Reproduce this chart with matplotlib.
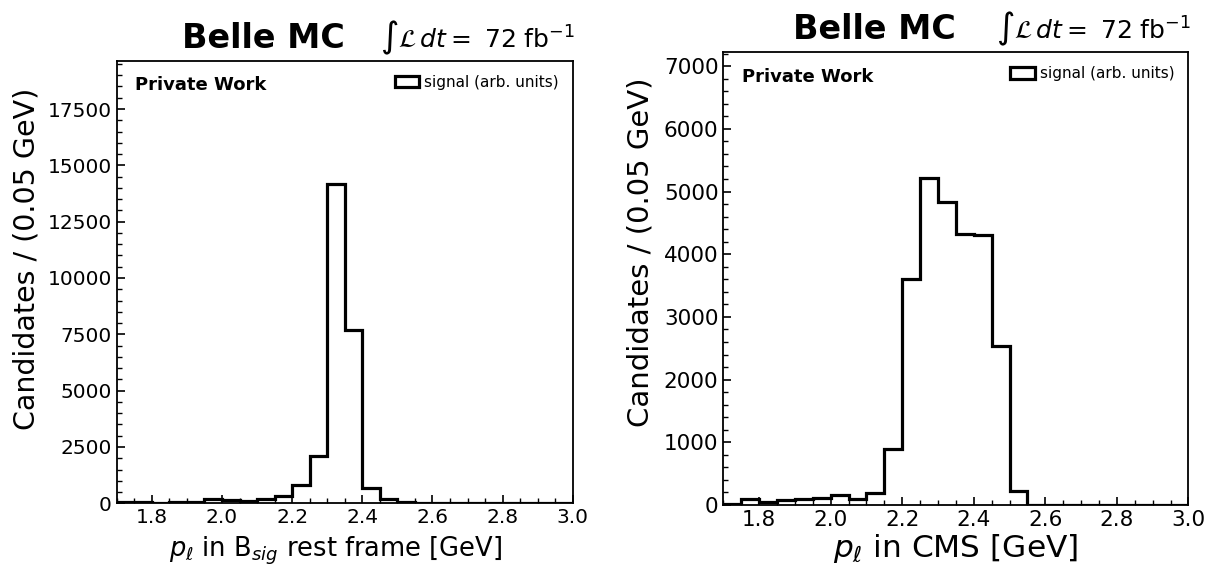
import numpy as np
import matplotlib
matplotlib.use("Agg")
import matplotlib.pyplot as plt
from matplotlib.ticker import MultipleLocator
from matplotlib.patches import Patch

# ---- data ----
bin_lo, bin_hi, n_bins = 1.7, 3.0, 26
left_counts = [40, 40, 30, 40, 80, 170, 130, 110, 180, 330, 820, 2100, 14150,
               7700, 680, 210, 80, 25, 10, 5, 5, 3, 2, 2, 1, 1]
right_counts = [10, 100, 50, 80, 100, 115, 160, 90, 190, 900, 3610, 5220, 4840,
                4330, 4300, 2530, 230, 5, 2, 1, 1, 0, 0, 0, 0, 0]
left_xlabel = r"$p_\ell$ in B$_{sig}$ rest frame [GeV]"
right_xlabel = r"$p_\ell$ in CMS [GeV]"
ylabel = "Candidates / (0.05 GeV)"
legend_label = "signal (arb. units)"
title_text = "Belle MC"
lumi_text = r"$\int\mathcal{L}\,dt=$ 72 fb$^{-1}$"
left_yticks = [0, 2500, 5000, 7500, 10000, 12500, 15000, 17500]
right_yticks = [0, 1000, 2000, 3000, 4000, 5000, 6000, 7000]
xticks = [1.8, 2.0, 2.2, 2.4, 2.6, 2.8, 3.0]

edges = np.round(np.linspace(bin_lo, bin_hi, n_bins + 1), 3)

fig = plt.figure(figsize=(12.06, 5.67), dpi=100)
axL = fig.add_axes([0.0968, 0.1123, 0.3781, 0.7801])
axR = fig.add_axes([0.5998, 0.1093, 0.3856, 0.7984])

def style(ax, counts, xlabel, yticks, ytop, yminor, tsize, xlsize, ylsize,
          ylab_x, ylab_y, xlab_x, xlab_y):
    ax.stairs(counts, edges, color="black", lw=2.3)
    ax.set_xlim(bin_lo, bin_hi)
    ax.set_ylim(0, ytop)
    ax.set_xticks(xticks)
    ax.set_yticks(yticks)
    ax.xaxis.set_minor_locator(MultipleLocator(0.05))
    ax.yaxis.set_minor_locator(MultipleLocator(yminor))
    ax.tick_params(which="both", direction="in", labelsize=tsize)
    ax.tick_params(which="major", length=6, width=1.2)
    ax.tick_params(which="minor", length=3.5, width=1.0)
    for s in ax.spines.values():
        s.set_linewidth(1.3)
    ax.set_xlabel(xlabel, fontsize=xlsize)
    ax.xaxis.set_label_coords(xlab_x, xlab_y)
    ax.set_ylabel(ylabel, fontsize=ylsize)
    ax.yaxis.set_label_coords(ylab_x, ylab_y)
    ax.text(0.04, 0.945, "Private Work", transform=ax.transAxes,
            fontsize=13, fontweight="bold", va="center", ha="left")
    handle = Patch(facecolor="none", edgecolor="black", lw=2.3)
    ax.legend([handle], [legend_label], loc="upper right", frameon=False,
              fontsize=11, handlelength=1.6, handleheight=0.8,
              handletextpad=0.35, borderaxespad=0.5)
    ax.text(0.50, 1.03, title_text, transform=ax.transAxes, fontsize=24,
            fontweight="bold", ha="right", va="baseline")
    ax.text(1.005, 1.03, lumi_text, transform=ax.transAxes, fontsize=18,
            ha="right", va="baseline")

style(axL, left_counts, left_xlabel, left_yticks, 19630, 500,
      14.5, 18.5, 20.5, -0.168, 0.552, 0.48, -0.07)
style(axR, right_counts, right_xlabel, right_yticks, 7220, 200,
      15.5, 22.5, 21, -0.149, 0.559, 0.5, -0.06)

fig.savefig("out.png", dpi=100)
